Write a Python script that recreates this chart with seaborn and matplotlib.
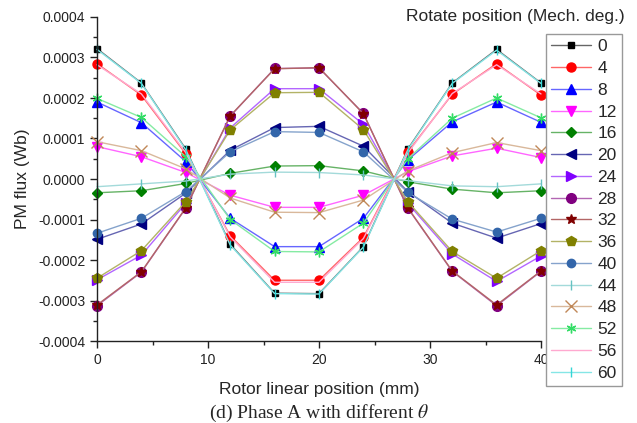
import numpy as np
import pandas as pd
import seaborn as sns
import matplotlib.pyplot as plt
from matplotlib.colors import to_rgb
from matplotlib.ticker import MultipleLocator, FuncFormatter

# rotor linear position (mm)
position = [0, 4, 8, 12, 16, 20, 24, 28, 32, 36, 40]

# PM flux linkage of phase A (Wb) for each rotate position (mech. deg.)
flux_0 = [0.000322, 0.000237, 0.000074, -0.000161, -0.000282, -0.000283, -0.000167, 0.000074, 0.000237, 0.000320, 0.000237]
flux_4 = [0.000285, 0.000207, 0.000062, -0.000140, -0.000250, -0.000250, -0.000144, 0.000067, 0.000209, 0.000285, 0.000207]
flux_8 = [0.000190, 0.000139, 0.000043, -0.000097, -0.000167, -0.000167, -0.000097, 0.000047, 0.000141, 0.000190, 0.000140]
flux_12 = [0.000080, 0.000055, 0.000016, -0.000040, -0.000070, -0.000070, -0.000040, 0.000018, 0.000057, 0.000076, 0.000053]
flux_16 = [-0.000034, -0.000029, -0.000011, 0.000014, 0.000032, 0.000033, 0.000020, -0.000007, -0.000025, -0.000034, -0.000029]
flux_20 = [-0.000149, -0.000111, -0.000035, 0.000071, 0.000127, 0.000130, 0.000081, -0.000031, -0.000109, -0.000146, -0.000110]
flux_24 = [-0.000249, -0.000188, -0.000060, 0.000126, 0.000223, 0.000223, 0.000135, -0.000060, -0.000185, -0.000253, -0.000190]
flux_28 = [-0.000313, -0.000230, -0.000072, 0.000155, 0.000273, 0.000274, 0.000162, -0.000072, -0.000228, -0.000313, -0.000228]
flux_32 = [-0.000311, -0.000229, -0.000071, 0.000156, 0.000272, 0.000275, 0.000161, -0.000071, -0.000227, -0.000311, -0.000227]
flux_36 = [-0.000245, -0.000177, -0.000056, 0.000121, 0.000213, 0.000214, 0.000122, -0.000056, -0.000179, -0.000245, -0.000177]
flux_40 = [-0.000134, -0.000097, -0.000031, 0.000067, 0.000117, 0.000115, 0.000067, -0.000033, -0.000099, -0.000131, -0.000097]
flux_44 = [-0.000019, -0.000012, -0.000005, 0.000012, 0.000017, 0.000016, 0.000010, -0.000004, -0.000017, -0.000019, -0.000012]
flux_48 = [0.000092, 0.000070, 0.000025, -0.000047, -0.000082, -0.000083, -0.000052, 0.000020, 0.000065, 0.000090, 0.000070]
flux_52 = [0.000199, 0.000152, 0.000055, -0.000100, -0.000179, -0.000180, -0.000109, 0.000050, 0.000150, 0.000200, 0.000151]
flux_56 = [0.000282, 0.000210, 0.000065, -0.000143, -0.000255, -0.000255, -0.000147, 0.000064, 0.000211, 0.000282, 0.000210]
flux_60 = [0.000320, 0.000236, 0.000072, -0.000163, -0.000283, -0.000284, -0.000168, 0.000072, 0.000236, 0.000318, 0.000236]

thetas = [0, 4, 8, 12, 16, 20, 24, 28, 32, 36, 40, 44, 48, 52, 56, 60]
fluxes = [flux_0, flux_4, flux_8, flux_12, flux_16, flux_20, flux_24, flux_28,
          flux_32, flux_36, flux_40, flux_44, flux_48, flux_52, flux_56, flux_60]

colors = ['#000000', '#ff0000', '#0000ff', '#ff00ff', '#008000', '#000080', '#8000ff', '#800080',
          '#800000', '#808000', '#3366aa', '#66c2c2', '#c08858', '#33dd66', '#ff70b0', '#33d6d6']
markers = ['s', 'o', '^', 'v', 'D', '<', '>', 'o', '*', 'p', 'o', '|', 'x', (6, 2, 0), None, '|']
sizes = [5, 6.5, 6.5, 6.5, 5.5, 6.5, 6.5, 7, 7.5, 7.5, 6, 7, 8, 7, 0, 7]

sns.set_style('ticks')
plt.rcParams['font.family'] = ['Liberation Sans', 'DejaVu Sans']
plt.rcParams['mathtext.fontset'] = 'stix'

fig = plt.figure(figsize=(6.37, 4.23), dpi=100)
ax = fig.add_axes([97 / 637, 1 - 341 / 423, 444 / 637, 324 / 423])

def lighten(c, amount):
    r, g, b = to_rgb(c)
    return (r + (1 - r) * amount, g + (1 - g) * amount, b + (1 - b) * amount)

for theta, flux, c, m, ms in zip(thetas, fluxes, colors, markers, sizes):
    df = pd.DataFrame({'position': position, 'flux': flux})
    sns.lineplot(data=df, x='position', y='flux', ax=ax, color=lighten(c, 0.4),
                 marker=m, markersize=ms, markerfacecolor=c, markeredgecolor=c,
                 markeredgewidth=1, linewidth=1, label=str(theta), clip_on=False)

ax.set_xlim(0, 40)
ax.set_ylim(-0.0004, 0.0004)
ax.xaxis.set_major_locator(MultipleLocator(10))
ax.xaxis.set_minor_locator(MultipleLocator(5))
ax.yaxis.set_major_locator(MultipleLocator(0.0001))
ax.yaxis.set_minor_locator(MultipleLocator(0.00005))
ax.yaxis.set_major_formatter(FuncFormatter(lambda v, p: '{:.4f}'.format(v)))
ax.tick_params(which='major', direction='out', length=5, width=1, labelsize=10, colors='#222222')
ax.tick_params(which='minor', direction='out', length=3, width=1, colors='#222222')
sns.despine(ax=ax)
for s in ['left', 'bottom']:
    ax.spines[s].set_color('#222222')
    ax.spines[s].set_linewidth(1)

ax.set_xlabel('Rotor linear position (mm)', fontsize=12.5, labelpad=11)
ax.set_ylabel('PM flux (Wb)', fontsize=12.5, labelpad=6)

leg = ax.legend(loc='upper left', bbox_to_anchor=(546 / 637, 1 - 34 / 423),
                bbox_transform=fig.transFigure, borderaxespad=0, frameon=True,
                fancybox=False, edgecolor='#999999', framealpha=1, fontsize=12.5,
                handlelength=2.3, labelspacing=0.38, handletextpad=0.35, borderpad=0.3)
leg.set_zorder(10)

fig.text(625 / 637, 1 - 17 / 423, 'Rotate position (Mech. deg.)', ha='right', va='center', fontsize=12.5)
fig.text(319 / 637, 1 - 413 / 423, '(d) Phase A with different $\\theta$', ha='center', va='center',
         family='Liberation Serif', fontsize=14)

fig.savefig('out.png', dpi=100)
